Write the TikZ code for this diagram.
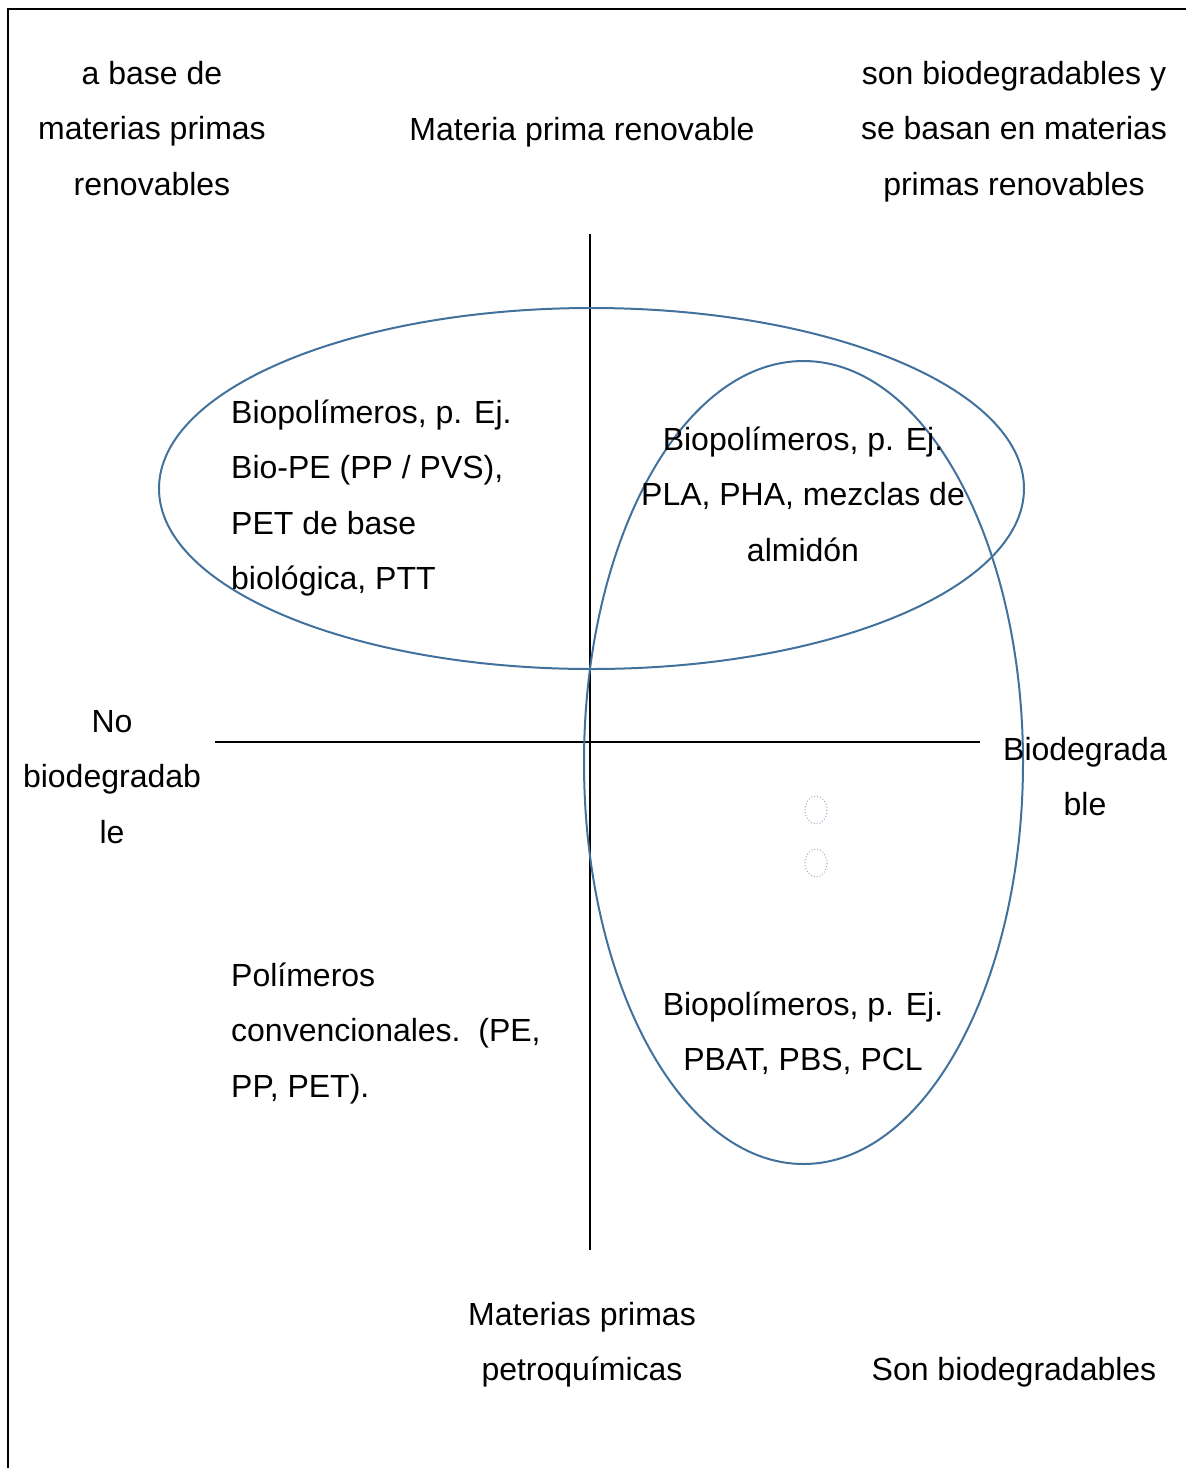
\documentclass[tikz,border=0pt]{standalone}
\usepackage{fontspec}
\setmainfont{Liberation Sans}
\definecolor{setblue}{HTML}{41719C}
\definecolor{faintblue}{HTML}{8FAACB}
\begin{document}
\begin{tikzpicture}[x=1pt,y=-1pt,
  lbl/.style={inner sep=0pt, font=\fontsize{32}{55.5}\selectfont},
  clbl/.style={lbl, align=center, anchor=base},
  llbl/.style={lbl, align=left, anchor=base west},
  axis/.style={line width=1.5pt, black},
  setline/.style={line width=2pt, setblue},
  frameline/.style={line width=2.2pt, black}]
\useasboundingbox (0,0) rectangle (1186,1468);
% frame (top and left edges)
\coordinate (fTR) at (1186,9);
\coordinate (fTL) at (8,9);
\coordinate (fBL) at (8,1468);
\draw[frameline] (fTR) -- (fTL) -- (fBL);
% axes
\coordinate (vTop) at (590,234);
\coordinate (vBot) at (590,1250);
\coordinate (hL) at (215,742);
\coordinate (hR) at (980,742);
\draw[axis] (vTop) -- (vBot);
\draw[axis] (hL) -- (hR);
% sets
\draw[setline] (591.5,488.5) ellipse [x radius=432.5, y radius=180.5];
\draw[setline] (803.5,762.5) ellipse [x radius=219.5, y radius=401.5];
% small dotted marks
\draw[faintblue, dotted, line width=1pt] (816,810) ellipse [x radius=11, y radius=14];
\draw[faintblue, dotted, line width=1pt] (816,863) ellipse [x radius=11, y radius=14];
% corner and axis captions (positions give the last line's baseline)
\node[clbl] (tl) at (152,195) {a base de\\materias primas\\renovables};
\node[clbl] (tc) at (582,140) {Materia prima renovable};
\node[clbl] (tr) at (1014,195) {son biodegradables y\\se basan en materias\\primas renovables};
\node[clbl] (ml) at (112,843) {No\\biodegradab\\le};
\node[clbl] (mr) at (1085,815.5) {Biodegrada\\ble};
\node[clbl] (bc) at (582,1380.5) {Materias primas\\petroqu\'imicas};
\node[clbl] (br) at (1014,1380) {Son biodegradables};
% quadrant contents
\node[llbl] (q1) at (231,589.5) {Biopol\'imeros, p. Ej.\\Bio-PE (PP / PVS),\\PET de base\\biol\'ogica, PTT};
\node[clbl] (q2) at (803,561) {Biopol\'imeros, p. Ej.\\PLA, PHA, mezclas de\\almid\'on};
\node[llbl] (q3) at (231,1097) {Pol\'imeros\\convencionales.~~(PE,\\PP, PET).};
\node[clbl] (q4) at (803,1070.5) {Biopol\'imeros, p. Ej.\\PBAT, PBS, PCL};
\end{tikzpicture}
\end{document}
